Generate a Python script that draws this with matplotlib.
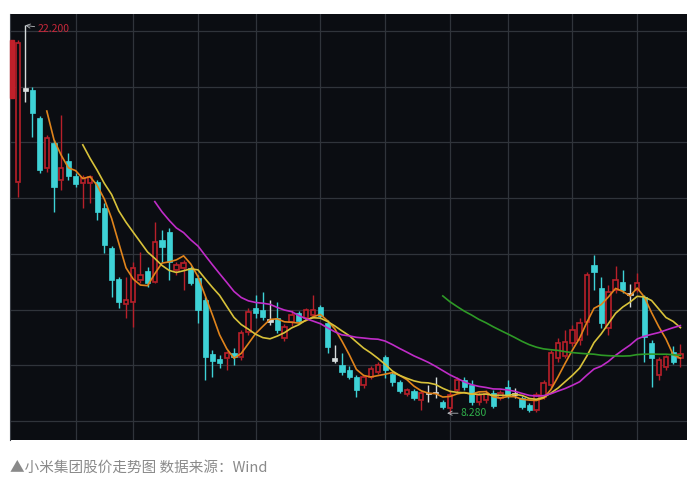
import numpy as np
import pandas as pd
import matplotlib
matplotlib.use("Agg")
import matplotlib.pyplot as plt
from matplotlib.patches import Rectangle
import matplotlib.transforms as mtransforms

plt.rcParams['font.family'] = ['Noto Sans CJK SC', 'DejaVu Sans']

# weekly candles (HKD)
opens = [16.58, 19.95, 19.88, 18.87, 17.08, 17.98, 16.65, 17.33, 16.79, 16.54,
         16.54, 16.58, 15.64, 14.21, 13.10, 12.20, 12.27, 13.06, 13.38, 12.99,
         14.50, 14.78, 13.42, 13.49, 13.49, 13.13, 12.34, 10.40, 10.23, 10.26,
         10.44, 10.30, 11.19, 12.06, 11.98, 11.66, 11.70, 10.98, 11.55, 11.88,
         11.70, 11.80, 12.09, 11.52, 10.26, 10.01, 9.83, 9.58, 9.29, 9.58,
         9.76, 10.30, 9.69, 9.40, 8.97, 9.08, 8.75, 9.00, 9.04, 8.68,
         8.47, 9.11, 9.47, 9.29, 8.68, 8.75, 9.00, 8.83, 9.22, 9.00,
         8.83, 8.57, 8.39, 8.86, 9.29, 10.26, 10.33, 10.80, 10.91, 11.55,
         13.60, 12.77, 11.34, 12.70, 12.99, 12.59, 12.70, 12.45, 10.80, 9.65,
         9.94, 10.48, 10.26]
highs = [21.67, 22.20, 19.99, 18.95, 18.26, 18.08, 18.98, 17.62, 16.90, 16.83,
         16.83, 16.65, 15.82, 14.28, 13.17, 13.17, 13.71, 14.07, 13.53, 15.14,
         14.86, 14.93, 13.71, 13.78, 13.56, 13.24, 12.45, 10.55, 10.37, 10.51,
         10.62, 11.27, 12.06, 12.52, 12.63, 12.34, 12.27, 11.48, 11.98, 11.95,
         12.06, 12.52, 12.16, 11.63, 10.73, 10.44, 9.97, 9.65, 9.65, 9.97,
         10.12, 10.37, 9.76, 9.47, 9.18, 9.15, 9.08, 9.29, 9.58, 8.75,
         9.11, 9.58, 9.58, 9.47, 9.04, 9.11, 9.11, 9.11, 9.47, 9.18,
         8.90, 8.65, 9.04, 9.47, 10.55, 10.98, 11.27, 11.45, 11.70, 13.35,
         13.96, 13.17, 12.88, 13.56, 13.42, 12.92, 13.31, 12.52, 10.91, 10.30,
         10.37, 10.69, 10.76]
lows = [16.04, 19.46, 18.19, 16.90, 16.94, 15.50, 16.29, 16.65, 16.40, 15.64,
        15.82, 15.21, 14.03, 12.45, 12.06, 11.70, 11.37, 12.95, 12.81, 12.95,
        13.71, 13.06, 13.24, 12.70, 12.88, 11.52, 9.47, 9.58, 9.90, 9.83,
        10.01, 10.19, 11.09, 11.70, 11.63, 11.45, 11.16, 10.87, 11.41, 11.52,
        11.63, 11.70, 11.70, 10.44, 10.08, 9.65, 9.51, 8.86, 9.18, 9.51,
        9.69, 9.54, 9.26, 9.00, 8.90, 8.75, 8.39, 8.68, 8.83, 8.43,
        8.28, 9.04, 9.11, 8.57, 8.57, 8.65, 8.47, 8.75, 8.83, 8.83,
        8.43, 8.32, 8.32, 8.79, 9.22, 10.12, 10.26, 10.69, 10.73, 11.09,
        12.70, 11.34, 11.09, 12.59, 12.59, 12.09, 12.63, 10.12, 9.22, 9.47,
        9.83, 10.05, 9.94]
closes = [21.57, 19.84, 19.05, 17.01, 18.16, 16.40, 17.08, 16.79, 16.51, 16.72,
          16.76, 15.50, 14.32, 13.06, 12.27, 12.34, 13.49, 13.24, 12.95, 14.42,
          14.24, 13.71, 13.60, 13.67, 12.95, 11.98, 10.30, 10.15, 10.08, 10.44,
          10.30, 11.16, 11.91, 11.88, 11.73, 11.55, 11.27, 11.37, 11.80, 11.59,
          11.98, 11.98, 11.77, 10.66, 10.15, 9.76, 9.58, 9.11, 9.58, 9.87,
          10.01, 9.83, 9.40, 9.08, 9.11, 8.83, 9.00, 8.97, 9.00, 8.50,
          8.93, 9.47, 9.22, 8.68, 8.93, 8.97, 8.54, 9.00, 8.93, 8.93,
          8.50, 8.39, 8.93, 9.36, 10.44, 10.80, 10.84, 11.27, 11.52, 13.24,
          13.35, 11.52, 12.63, 13.06, 12.70, 12.52, 12.95, 11.01, 10.26, 10.19,
          10.30, 10.12, 10.40]

ma_windows = [5, 10, 20, 60]
ma_colors = ['#e0841c', '#d8c23a', '#c02cc8', '#2e9a26']

# month gridlines (week index) and price gridlines
month_ticks = [8, 16, 25, 33, 42, 51, 60, 68, 77, 86]
price_ticks = [8, 10, 12, 14, 16, 18, 20, 22]

bg = '#0b0d12'
up_col = '#b8202a'
down_col = '#3ed2d6'
flat_col = '#d6dcdc'

df = pd.DataFrame({'open': opens, 'high': highs, 'low': lows, 'close': closes})
x = np.arange(len(df))

fig = plt.figure(figsize=(6.91, 4.80), dpi=100)
ax = fig.add_axes([10 / 691, 40 / 480, 677 / 691, 426 / 480])
ax.set_facecolor(bg)

for t in month_ticks:
    ax.axvline(t, color='#30343b', lw=0.9, zorder=0)
for p in price_ticks:
    ax.axhline(p, color='#30343b', lw=0.9, zorder=0)

w = 0.7
for i, r in df.iterrows():
    o, h, l, c = r['open'], r['high'], r['low'], r['close']
    if abs(c - o) < 0.12:
        col = flat_col
        ax.vlines(i, l, h, color=col, lw=1.0, zorder=2)
        ax.bar(i, max(abs(c - o), 0.04), bottom=min(o, c), width=w,
               color=col, edgecolor=col, lw=0.5, zorder=3)
    elif c > o:
        ax.vlines(i, l, o, color=up_col, lw=1.0, zorder=2)
        ax.vlines(i, c, h, color=up_col, lw=1.0, zorder=2)
        ax.bar(i, c - o, bottom=o, width=w * 0.85, facecolor=bg,
               edgecolor=up_col, lw=1.2, zorder=3)
    else:
        ax.vlines(i, l, h, color=down_col, lw=1.0, zorder=2)
        ax.bar(i, o - c, bottom=c, width=w, color=down_col,
               edgecolor=down_col, lw=0.5, zorder=3)

for n, col in zip(ma_windows, ma_colors):
    ma = df['close'].rolling(n).mean()
    ax.plot(x, ma, color=col, lw=1.2, zorder=4)

# red marker on left edge
trans = mtransforms.blended_transform_factory(ax.transAxes, ax.transData)
ax.add_patch(Rectangle((0, 19.6), 0.006, 2.08, transform=trans,
                       color='#c0202a', zorder=5, clip_on=False))

hi = int(np.argmax(highs))
ax.annotate('%.3f' % highs[hi], xy=(hi, highs[hi]), xytext=(hi + 1.7, highs[hi] - 0.14),
            color='#c8283a', fontsize=7.5, va='center', ha='left',
            arrowprops=dict(arrowstyle='->', color='#b8bcc0', lw=0.6,
                            shrinkA=0, shrinkB=0))
lo = int(np.argmin(lows))
ax.annotate('%.3f' % lows[lo], xy=(lo - 0.4, lows[lo]), xytext=(lo + 1.5, lows[lo]),
            color='#2fae4a', fontsize=7.5, va='center', ha='left',
            arrowprops=dict(arrowstyle='->', color='#b8bcc0', lw=0.6,
                            shrinkA=0, shrinkB=0))

ax.set_xlim((10 - 18) / 7.2, (687 - 18) / 7.2)
ax.set_ylim(8 - 19 / 27.86, 8 + 407 / 27.86)
ax.set_xticks([])
ax.set_yticks([])
for s in ax.spines.values():
    s.set_visible(False)
ax.spines['left'].set_visible(True)
ax.spines['left'].set_color('#3a3e46')

fig.text(10 / 691, 1 - 468 / 480, '▲小米集团股价走势图 数据来源：Wind', color='#8a8a8a',
         fontsize=10.5, ha='left', va='center')

fig.savefig('out.png', dpi=100, facecolor='white')
